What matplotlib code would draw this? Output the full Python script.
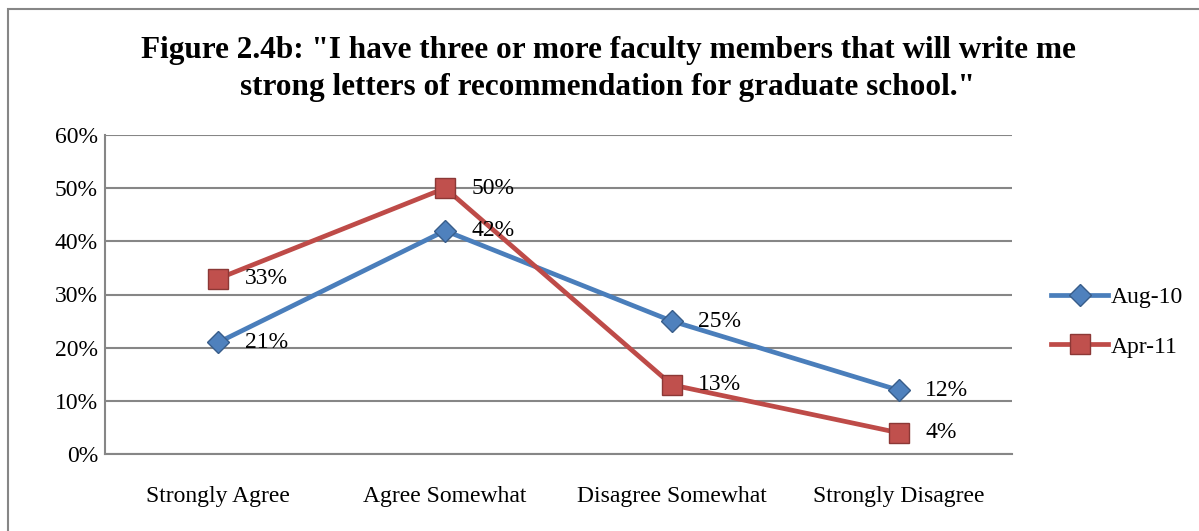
import matplotlib
matplotlib.use("Agg")
import matplotlib.pyplot as plt
from matplotlib.patches import Rectangle

# chart data
categories = ["Strongly Agree", "Agree Somewhat", "Disagree Somewhat", "Strongly Disagree"]
aug_10 = [21, 42, 25, 12]
apr_11 = [33, 50, 13, 4]
y_ticks = [0, 10, 20, 30, 40, 50, 60]
title = 'Figure 2.4b: "I have three or more faculty members that will write me\nstrong letters of recommendation for graduate school."'

plt.rcParams['font.family'] = ['Liberation Serif', 'DejaVu Serif']

W, H = 1199, 531
fig = plt.figure(figsize=(W / 100, H / 100), dpi=100)

# outer chart border
fig.patches.append(Rectangle((8 / W, -0.05), 1.1, 1 - 9 / H + 0.05, transform=fig.transFigure,
                             fill=False, edgecolor='#868686', linewidth=1.5))

ax = fig.add_axes([105 / W, 1 - 454 / H, (1012 - 105) / W, (454 - 135) / H])

x = range(len(categories))
ax.plot(x, aug_10, color='#4A7EBB', linewidth=3.4, marker='D', markersize=11,
        markerfacecolor='#4F81BD', markeredgecolor='#385D8A', markeredgewidth=1, label='Aug-10', zorder=3)
ax.plot(x, apr_11, color='#BE4B48', linewidth=3.4, marker='s', markersize=14,
        markerfacecolor='#C0504D', markeredgecolor='#8C3836', markeredgewidth=1, label='Apr-11', zorder=4)

for i in x:
    ax.annotate(f"{aug_10[i]}%", (i, aug_10[i]), xytext=(19, 0), textcoords='offset points',
                va='center', ha='left', fontsize=17, zorder=5)
    ax.annotate(f"{apr_11[i]}%", (i, apr_11[i]), xytext=(19, 0), textcoords='offset points',
                va='center', ha='left', fontsize=17, zorder=5)

ax.set_xlim(-0.5, 3.5)
ax.set_ylim(0, 60)
ax.set_yticks(y_ticks)
ax.set_yticklabels([f"{v}%" for v in y_ticks], fontsize=17)
ax.set_xticks(list(x))
ax.set_xticklabels(categories, fontsize=17)
ax.tick_params(axis='y', length=0, pad=5)
ax.tick_params(axis='x', length=0, pad=23)
ax.yaxis.grid(True, color='#868686', linewidth=1.5)
ax.set_axisbelow(True)
for s in ['top', 'right']:
    ax.spines[s].set_visible(False)
for s in ['left', 'bottom']:
    ax.spines[s].set_color('#868686')
    ax.spines[s].set_linewidth(1.5)

fig.legend(loc='center left', bbox_to_anchor=(1030 / W, 1 - 322 / H), frameon=False,
           fontsize=17, handlelength=2.4, handletextpad=0.1, labelspacing=1.2)

fig.text(608 / W, 1 - 69 / H, title, ha='center', va='center', fontsize=22.5,
         fontweight='bold', linespacing=1.4)

fig.savefig("out.png", dpi=100)
